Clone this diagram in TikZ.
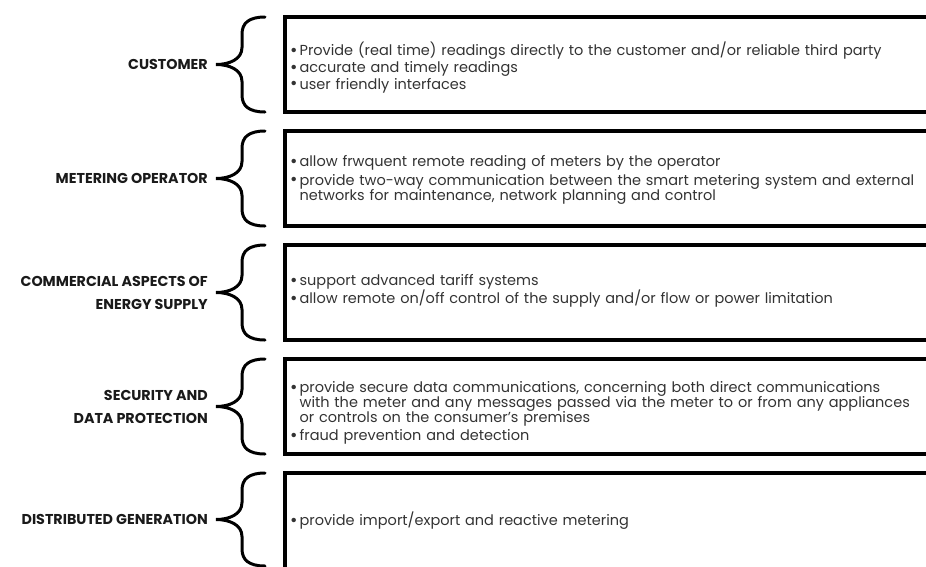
\documentclass[tikz,border=0pt]{standalone}
\usepackage{fontspec}
\setmainfont{Poppins}
\usepackage{calc}
\definecolor{txt}{HTML}{333333}
\definecolor{lab}{HTML}{1A1A1A}
\newcommand\bl{\raisebox{-0.8pt}{\fontsize{18}{18}\selectfont\textbullet}\hspace{2pt}}
\newcommand\ind{\hspace*{\widthof{\bl}}}
\newcommand\tightlines{\lineskiplimit=-20pt\relax\lineskip=0pt\relax}
\tikzset{
  box/.style={draw=black, line width=4pt},
  brc/.style={draw=black, line width=3pt, line cap=round},
  items/.style={anchor=west, inner sep=0pt, text width=660pt, align=left, text=txt,
    font=\fontsize{14.5}{15.2}\selectfont\tightlines},
  label/.style={anchor=east, inner sep=0pt, align=right, text=lab,
    font=\fontsize{14.3}{23}\selectfont\bfseries\tightlines}
}
\begin{document}
\begin{tikzpicture}[x=1pt, y=-1pt]
\useasboundingbox (0,0) rectangle (926,566);
\clip (0,0) rectangle (926,566);
\foreach \T/\B in {17/112, 131/226, 245/340, 359/454, 473/580}{
  \draw[box] (285,\T) rectangle (945,\B);
}
% braces
\foreach \T/\B in {17/112, 131/226, 245/340, 359/454, 473/566}{
  \pgfmathsetmacro\M{(\T+\B)/2}
  \draw[brc] (265,\T) .. controls (249,\T) and (242,{\T+6}) .. (242,{\T+17})
    -- (242,{\M-17}) .. controls (242,{\M-5}) and (229,\M) .. (216,\M)
    .. controls (229,\M) and (242,{\M+5}) .. (242,{\M+17})
    -- (242,{\B-17}) .. controls (242,{\B-6}) and (249,\B) .. (265,\B);
}
% labels
\node[label] (l1) at (208,64.5) {CUSTOMER};
\node[label] (l2) at (208,178.5) {METERING OPERATOR};
\node[label] (l3) at (208,292.5) {COMMERCIAL ASPECTS OF\\ENERGY SUPPLY};
\node[label] (l4) at (208,406.5) {SECURITY AND\\DATA PROTECTION};
\node[label] (l5) at (208,519.5) {DISTRIBUTED GENERATION};
% items
\node[items] (t1) at (290,67.5) {\bl Provide (real time) readings directly to the customer and/or reliable third party\\[1.5pt]
\bl accurate and timely readings\\[1.5pt]
\bl user friendly interfaces};
\node[items] (t2) at (290,180) {\bl allow frwquent remote reading of meters by the operator\\[3pt]
\bl provide two-way communication between the smart metering system and external\\
\ind networks for maintenance, network planning and control};
\node[items] (t3) at (290,291) {\bl support advanced tariff systems\\[3pt]
\bl allow remote on/off control of the supply and/or flow or power limitation};
\node[items] (t4) at (290,413) {\bl provide secure data communications, concerning both direct communications\\
\ind with the meter and any messages passed via the meter to or from any appliances\\
\ind or controls on the consumer's premises\\[3pt]
\bl fraud prevention and detection};
\node[items] (t5) at (290,521) {\bl provide import/export and reactive metering};
\end{tikzpicture}
\end{document}
